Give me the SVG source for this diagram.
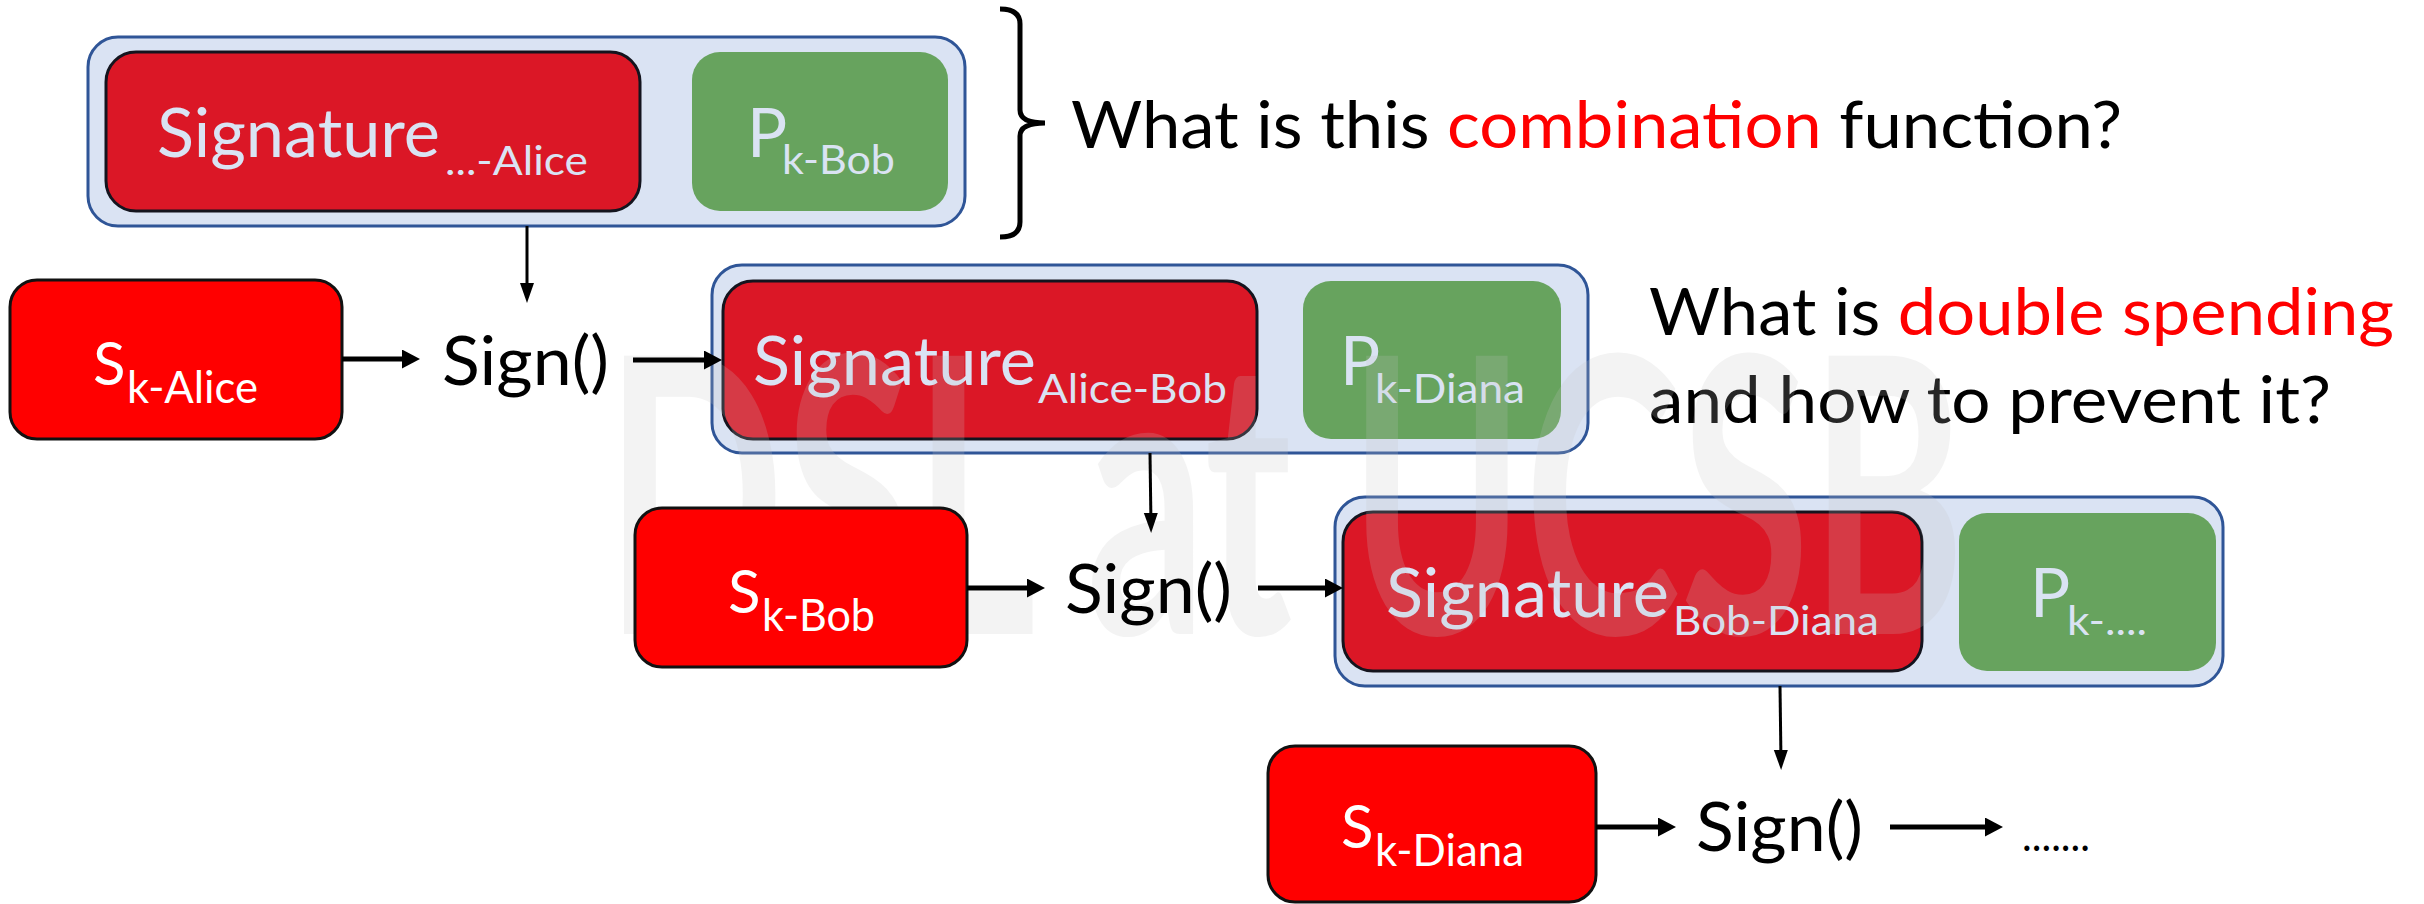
<svg xmlns="http://www.w3.org/2000/svg" width="2424" height="904" viewBox="0 0 2424 904">
<style>
.outer{fill:#DAE3F3;stroke:#2F5597;stroke-width:3}
.sig{fill:#DB1726;stroke:#14141e;stroke-width:3}
.pk{fill:#67A35E}
.sk{fill:#FF0000;stroke:#111;stroke-width:3}
.t{font-family:Lato,"Open Sans","Liberation Sans",sans-serif}
.lb{fill:#DAE3F3}
.wh{fill:#FFFFFF}
.big{font-size:67px}
.sub{font-size:40px}
.q{font-size:65px;fill:#000}
.red{fill:#FF0000}
.ln{stroke:#000;fill:none}
.thick{stroke-width:5}
.thin{stroke-width:3}
</style>
<defs>
<marker id="ah" markerUnits="userSpaceOnUse" markerWidth="20" markerHeight="20" refX="10" refY="9.5" orient="auto"><path d="M0,0 L18,9.5 L0,19 z" fill="#000"/></marker>
<marker id="av" markerUnits="userSpaceOnUse" markerWidth="22" markerHeight="16" refX="12" refY="7" orient="auto"><path d="M0,0 L20,7 L0,14 z" fill="#000"/></marker>
</defs>
<rect width="2424" height="904" fill="#fff"/>

<g id="block1">
<rect class="outer" x="88" y="37" width="877" height="189" rx="30"/>
<rect class="sig" x="106" y="52" width="534" height="159" rx="30"/>
<rect class="pk" x="692" y="52" width="256" height="159" rx="28"/>
<text class="t lb big" x="157" y="157" textLength="283" lengthAdjust="spacingAndGlyphs">Signature</text>
<text class="t lb" font-size="40" x="445" y="175" textLength="143" lengthAdjust="spacingAndGlyphs">...-Alice</text>
<text class="t lb big" x="747" y="157">P</text>
<text class="t lb sub" x="782" y="174" textLength="113" lengthAdjust="spacingAndGlyphs">k-Bob</text>
</g>

<g id="brace">
<path class="ln" stroke-width="5" d="M1000,9 Q1020,9 1020,24 L1020,110 Q1020,123 1045,123 Q1020,123 1020,136 L1020,222 Q1020,237 1000,237"/>
</g>

<g id="question1">
<text class="t q" x="1071" y="148" textLength="1051" lengthAdjust="spacingAndGlyphs">What is this <tspan class="red">combination</tspan> function?</text>
</g>

<g id="block2">
<rect class="outer" x="712" y="265" width="876" height="188" rx="30"/>
<rect class="sig" x="723" y="281" width="534" height="158" rx="30"/>
<rect class="pk" x="1303" y="281" width="258" height="158" rx="28"/>
<text class="t lb big" x="753" y="385" textLength="283" lengthAdjust="spacingAndGlyphs">Signature</text>
<text class="t lb" font-size="40" x="1038" y="403" textLength="189" lengthAdjust="spacingAndGlyphs">Alice-Bob</text>
<text class="t lb big" x="1340" y="385">P</text>
<text class="t lb sub" x="1375" y="403" textLength="150" lengthAdjust="spacingAndGlyphs">k-Diana</text>
</g>

<g id="question2">
<text class="t q" x="1649" y="335" textLength="745" lengthAdjust="spacingAndGlyphs">What is <tspan class="red">double spending</tspan></text>
<text class="t q" x="1649" y="423" textLength="682" lengthAdjust="spacingAndGlyphs">and how to prevent it?</text>
</g>

<g id="block3">
<rect class="outer" x="1335" y="497" width="888" height="189" rx="30"/>
<rect class="sig" x="1343" y="512" width="579" height="159" rx="30"/>
<rect class="pk" x="1959" y="513" width="257" height="158" rx="28"/>
<text class="t lb big" x="1386" y="617" textLength="283" lengthAdjust="spacingAndGlyphs">Signature</text>
<text class="t lb" font-size="40" x="1673" y="635" textLength="206" lengthAdjust="spacingAndGlyphs">Bob-Diana</text>
<text class="t lb big" x="2030" y="617">P</text>
<text class="t lb sub" x="2067" y="635" textLength="80" lengthAdjust="spacingAndGlyphs">k-....</text>
</g>

<g id="watermark" opacity="0.2">
<text class="t" font-size="385" font-weight="700" fill="#c4c4c4" x="605" y="634" textLength="1360" lengthAdjust="spacingAndGlyphs">DSL at UCSB</text>
</g>

<g id="sk-alice">
<rect class="sk" x="10" y="280" width="332" height="159" rx="27"/>
<text class="t wh" font-size="60" x="93" y="385">S</text>
<text class="t wh" font-size="44" x="127" y="403" textLength="131" lengthAdjust="spacingAndGlyphs">k-Alice</text>
</g>
<g id="sign1"><text class="t big" fill="#000" x="442" y="385" textLength="167" lengthAdjust="spacingAndGlyphs">Sign()</text></g>

<g id="sk-bob">
<rect class="sk" x="635" y="508" width="332" height="159" rx="27"/>
<text class="t wh" font-size="60" x="728" y="613">S</text>
<text class="t wh" font-size="44" x="762" y="631" textLength="113" lengthAdjust="spacingAndGlyphs">k-Bob</text>
</g>
<g id="sign2"><text class="t big" fill="#000" x="1065" y="613" textLength="167" lengthAdjust="spacingAndGlyphs">Sign()</text></g>

<g id="sk-diana">
<rect class="sk" x="1268" y="746" width="328" height="156" rx="27"/>
<text class="t wh" font-size="60" x="1341" y="848">S</text>
<text class="t wh" font-size="44" x="1375" y="866" textLength="149" lengthAdjust="spacingAndGlyphs">k-Diana</text>
</g>
<g id="sign3"><text class="t big" fill="#000" x="1696" y="851" textLength="167" lengthAdjust="spacingAndGlyphs">Sign()</text></g>
<g id="dots"><text class="t" font-size="44" fill="#000" x="2022" y="851" textLength="68" lengthAdjust="spacingAndGlyphs">.......</text></g>

<g id="connectors">
<line class="ln thick" x1="342" y1="359" x2="412" y2="359" marker-end="url(#ah)"/>
<line class="ln thick" x1="633" y1="360" x2="714" y2="360" marker-end="url(#ah)"/>
<line class="ln thick" x1="967" y1="588" x2="1037" y2="588" marker-end="url(#ah)"/>
<line class="ln thick" x1="1258" y1="588" x2="1335" y2="588" marker-end="url(#ah)"/>
<line class="ln thick" x1="1596" y1="827" x2="1668" y2="827" marker-end="url(#ah)"/>
<line class="ln thick" x1="1890" y1="827" x2="1995" y2="827" marker-end="url(#ah)"/>
<line class="ln thin" x1="527" y1="226" x2="527" y2="295" marker-end="url(#av)"/>
<line class="ln thin" x1="1150" y1="453" x2="1151" y2="525" marker-end="url(#av)"/>
<line class="ln thin" x1="1780" y1="686" x2="1781" y2="762" marker-end="url(#av)"/>
</g>
</svg>
